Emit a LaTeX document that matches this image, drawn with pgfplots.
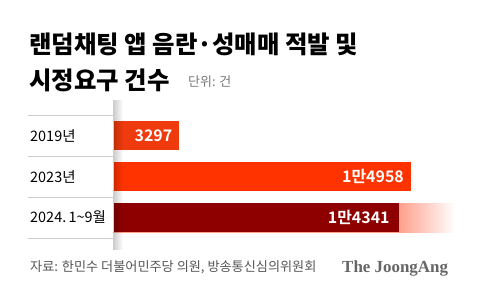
\documentclass[border=0pt]{standalone}
\usepackage{fontspec}
\usepackage{pgfplots}
\pgfplotsset{compat=1.18}
\usetikzlibrary{fadings}
\setmainfont{Noto Sans CJK KR}[BoldFont={* Bold}]
\newfontfamily\titlefont{Noto Sans CJK KR Black}
\newfontfamily\logofont{Liberation Serif}
\definecolor{barA}{HTML}{EE3A0C}
\definecolor{barB}{HTML}{FF3300}
\definecolor{barC}{HTML}{8E0000}
\definecolor{fadeC}{HTML}{FFA08C}
\definecolor{sep}{HTML}{CCCCCC}
\definecolor{srcgray}{HTML}{555555}
\definecolor{unitgray}{HTML}{777777}
\definecolor{logogray}{HTML}{666666}
\pgfdeclarehorizontalshading{fadebar}{100bp}{color(0bp)=(fadeC); color(66.8bp)=(fadeC); color(75bp)=(white); color(100bp)=(white)}
\tikzfading[name=shadowfade, left color=transparent!0, right color=transparent!100]
\begin{document}
\begin{tikzpicture}[x=1bp,y=1bp]
\path (0bp,0bp) rectangle (480bp,294bp);
% title
\node[anchor=base west, inner sep=0, font=\titlefont\fontsize{24.5}{24.5}\selectfont] at (29bp,240bp) {랜덤채팅 앱 음란·성매매 적발 및};
\node[anchor=base west, inner sep=0, font=\titlefont\fontsize{24.5}{24.5}\selectfont] at (29bp,204bp) {시정요구 건수};
\node[anchor=base west, inner sep=0, font=\fontsize{13}{13}\selectfont, text=unitgray] at (188bp,207bp) {단위: 건};
% row separators
\foreach \yy in {115,156,197,238} \draw[sep, line width=0.7bp] (28bp,294bp-\yy bp) -- (113bp,294bp-\yy bp);
% year labels
\node[anchor=west, inner sep=0, font=\fontsize{14.5}{14.5}\selectfont] at (30bp,158.5bp) {2019년};
\node[anchor=west, inner sep=0, font=\fontsize{14.5}{14.5}\selectfont] at (30bp,117.5bp) {2023년};
\node[anchor=west, inner sep=0, font=\fontsize{14.5}{14.5}\selectfont] at (30bp,76.5bp) {2024.\,1\textasciitilde9월};
\begin{axis}[at={(114bp,56bp)}, anchor=south west, width=337.6bp, height=123bp, scale only axis,
  xmin=0, xmax=17000, ymin=-0.5, ymax=2.5, y dir=reverse, hide axis, clip=false,
  xbar, bar width=29bp, bar shift=0pt]
\addplot[draw=none, shading=fadebar] coordinates {(17161,2)};
\addplot[fill=barA, draw=none] coordinates {(3297,0)};
\addplot[fill=barB, draw=none] coordinates {(14958,1)};
\addplot[fill=barC, draw=none] coordinates {(14341,2)};
\node[anchor=east, inner sep=0, text=white, font=\bfseries\fontsize{16}{16}\selectfont, xshift=-7bp] at (axis cs:3297,0) {3297};
\node[anchor=east, inner sep=0, text=white, font=\bfseries\fontsize{16}{16}\selectfont, xshift=-7bp] at (axis cs:14958,1) {1만4958};
\node[anchor=east, inner sep=0, text=white, font=\bfseries\fontsize{16}{16}\selectfont, xshift=-9bp] at (axis cs:14341,2) {1만4341};
\end{axis}
% fold shadow
\fill[black, opacity=0.2, path fading=shadowfade] (113bp,44bp) rectangle (123bp,194bp);
% source
\node[anchor=base west, inner sep=0, font=\fontsize{13.2}{13.2}\selectfont, text=srcgray] at (30bp,23bp) {자료: 한민수 더불어민주당 의원, 방송통신심의위원회};
\node[anchor=base west, inner sep=0, font=\logofont\bfseries\fontsize{17}{17}\selectfont, text=logogray] at (342bp,22bp) {The JoongAng};
\end{tikzpicture}
\end{document}
